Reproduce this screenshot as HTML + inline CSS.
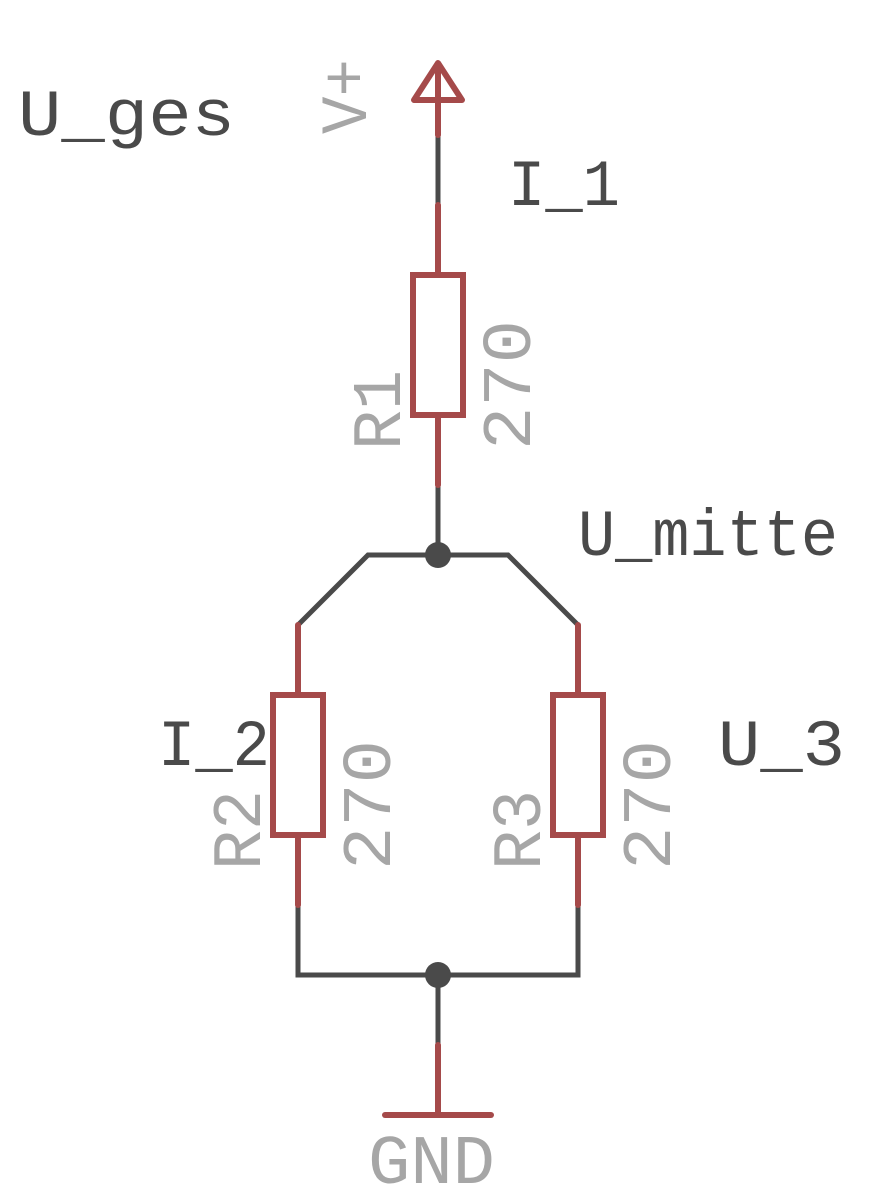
<!DOCTYPE html>
<html><head><meta charset="utf-8"><style>
html,body{margin:0;padding:0;background:#fff;}
svg{display:block;}
text{font-family:"Liberation Mono",monospace;}
</style></head><body>
<svg width="871" height="1203" viewBox="0 0 871 1203" xmlns="http://www.w3.org/2000/svg">
<g stroke-linecap="round" fill="none">
<!-- wires gray -->
<g stroke="#4a4a4a" stroke-width="5">
<line x1="438" y1="135" x2="438" y2="205"/>
<line x1="438" y1="485" x2="438" y2="555"/>
<polyline points="298,625 368,555 508,555 578,625"/>
<polyline points="298,905 298,975 578,975 578,905"/>
<line x1="438" y1="975" x2="438" y2="1045"/>
</g>
<!-- red -->
<g stroke="#a54a4a" stroke-width="6">
<polygon points="438,63 414,100 462,100" stroke-linejoin="round"/>
<line x1="438" y1="65" x2="438" y2="135"/>
<line x1="438" y1="205" x2="438" y2="275"/>
<rect x="413" y="275" width="50" height="140"/>
<line x1="438" y1="415" x2="438" y2="485"/>
<line x1="298" y1="625" x2="298" y2="695"/>
<rect x="273" y="695" width="50" height="140"/>
<line x1="298" y1="835" x2="298" y2="905"/>
<line x1="578" y1="625" x2="578" y2="695"/>
<rect x="553" y="695" width="50" height="140"/>
<line x1="578" y1="835" x2="578" y2="905"/>
<line x1="438" y1="1045" x2="438" y2="1115"/>
<line x1="385" y1="1115" x2="491" y2="1115"/>
</g>
</g>
<circle cx="438" cy="555" r="13" fill="#4a4a4a"/>
<circle cx="438" cy="975" r="13" fill="#4a4a4a"/>
<g fill="#4a4a4a" font-size="66">
<text x="18" y="135" textLength="217" lengthAdjust="spacingAndGlyphs">U_ges</text>
<text x="508" y="205" textLength="112" lengthAdjust="spacingAndGlyphs">I_1</text>
<text x="578" y="555" textLength="260" lengthAdjust="spacingAndGlyphs">U_mitte</text>
<text x="158" y="765" textLength="112" lengthAdjust="spacingAndGlyphs">I_2</text>
<text x="718" y="765" textLength="127" lengthAdjust="spacingAndGlyphs">U_3</text>
</g>
<g fill="#a6a6a6" font-size="70">
<text x="368" y="1183" textLength="127" lengthAdjust="spacingAndGlyphs">GND</text>
<g transform="translate(343,97) rotate(-90)"><text x="-37" y="23" font-size="66" textLength="75" lengthAdjust="spacingAndGlyphs">V+</text></g>
<g transform="translate(375,410) rotate(-90)"><text x="-40" y="25" textLength="80" lengthAdjust="spacingAndGlyphs">R1</text></g>
<g transform="translate(505,385) rotate(-90)"><text x="-65" y="25" textLength="130" lengthAdjust="spacingAndGlyphs">270</text></g>
<g transform="translate(235,830) rotate(-90)"><text x="-40" y="25" textLength="80" lengthAdjust="spacingAndGlyphs">R2</text></g>
<g transform="translate(365,805) rotate(-90)"><text x="-65" y="25" textLength="130" lengthAdjust="spacingAndGlyphs">270</text></g>
<g transform="translate(515,830) rotate(-90)"><text x="-40" y="25" textLength="80" lengthAdjust="spacingAndGlyphs">R3</text></g>
<g transform="translate(645,805) rotate(-90)"><text x="-65" y="25" textLength="130" lengthAdjust="spacingAndGlyphs">270</text></g>
</g>
</svg>
</body></html>
